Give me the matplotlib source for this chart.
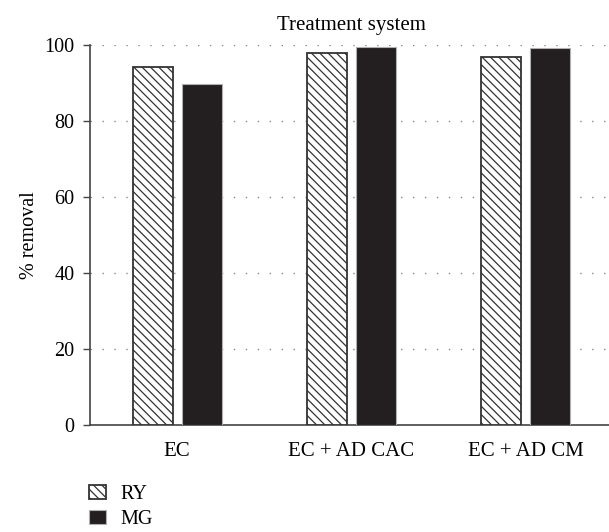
import numpy as np
import matplotlib
matplotlib.use('Agg')
import matplotlib.pyplot as plt

plt.rcParams['font.family'] = ['Liberation Serif', 'DejaVu Serif']
plt.rcParams['hatch.linewidth'] = 0.9

systems = ['EC', 'EC + AD CAC', 'EC + AD CM']
ry = [94.1, 97.8, 96.9]
mg = [89.7, 99.4, 99.3]

fig = plt.figure(figsize=(6.09, 5.32), dpi=100)
# axes runs a little past the right edge, as in the cropped original
ax = fig.add_axes([0.1478, 0.2011, 0.8588, 0.7143])

x = np.arange(len(systems))
w = 0.23
ax.bar(x - 0.14, ry, w, color='white', edgecolor='#333333', hatch='\\\\\\\\',
       linewidth=1.3, label='RY', zorder=3)
ax.bar(x + 0.14, mg, w, color='#231f20', edgecolor='#b0b0b0',
       linewidth=0.8, label='MG', zorder=3)

ax.set_xlim(-0.5, 2.5)
ax.set_ylim(0, 100)
ax.set_yticks([0, 20, 40, 60, 80, 100])
ax.set_xticks(x)
ax.set_xticklabels(systems, fontsize=15)
ax.tick_params(axis='x', length=0, pad=12)
ax.tick_params(axis='y', labelsize=14.5, length=5, width=1, color='#444444', pad=6)
ax.set_ylabel('% removal', fontsize=14.5)
ax.set_title('Treatment system', fontsize=15, pad=11)
ax.grid(axis='y', linestyle=(0, (1, 7.6)), color='#888888', linewidth=1, zorder=0)
for s in ['top', 'right']:
    ax.spines[s].set_visible(False)
for s in ['left', 'bottom']:
    ax.spines[s].set_color('#444444')
    ax.spines[s].set_linewidth(1.2)

fig.legend(loc='center left', bbox_to_anchor=(89 / 609, 25 / 532), frameon=False,
           fontsize=14.5, handlelength=0.82, handleheight=0.72,
           handletextpad=0.75, labelspacing=0.3, borderaxespad=0, borderpad=0)

fig.savefig('out.png', dpi=100)
